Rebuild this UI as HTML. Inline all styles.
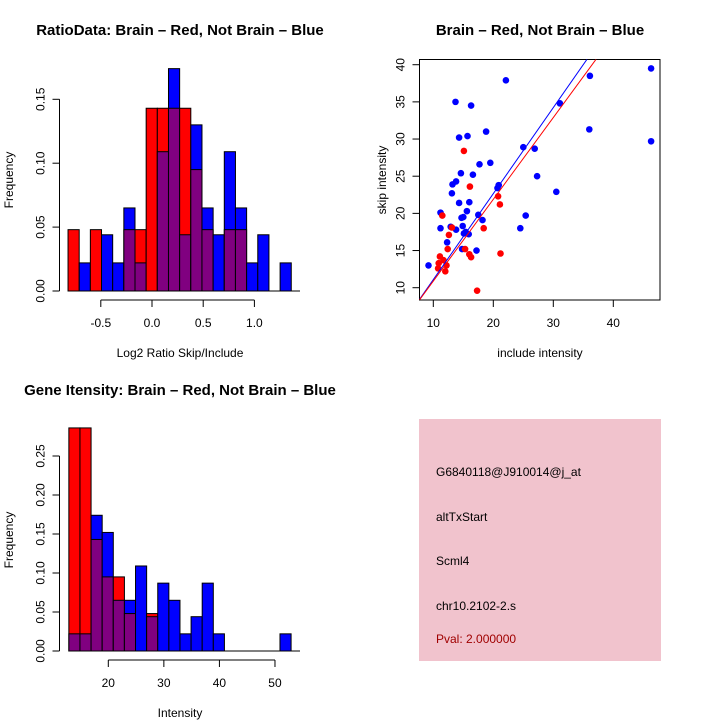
<!DOCTYPE html>
<html><head><meta charset="utf-8"><style>
body{margin:0;background:#fff}
svg{display:block;font-family:"Liberation Sans",sans-serif}
</style></head><body>
<svg id="chart" width="720" height="720" viewBox="0 0 720 720" xmlns="http://www.w3.org/2000/svg">
<rect width="720" height="720" fill="#fff"/>
<g id="p1"></g>
<g id="p2"></g>
<g id="p3"></g>
<g>
<rect x="419" y="419" width="242" height="242" fill="#f1c3cd"/>
<text x="436" y="476" font-size="12">G6840118@J910014@j_at</text>
<text x="436" y="521" font-size="12">altTxStart</text>
<text x="436" y="565" font-size="12">Scml4</text>
<text x="436" y="610" font-size="12">chr10.2102-2.s</text>
<text x="436" y="643" font-size="12" fill="#a00000">Pval: 2.000000</text>
</g>
</svg>
<script>
// Ratio histogram data
const ratioStart = -0.82, ratioBinW = 0.109;
const ratioRed  = [0.048,0,0.048,0,0,0.048,0.048,0.143,0.143,0.143,0.143,0.095,0.048,0,0.048,0.048,0,0,0,0];
const ratioBlue = [0,0.022,0,0.044,0.022,0.065,0.022,0,0.109,0.174,0.044,0.130,0.065,0.044,0.109,0.065,0.022,0.044,0,0.022];
const ratioYTicks = [0,0.05,0.10,0.15];
const ratioYLabels = ["0.00","0.05","0.10","0.15"];
const ratioXTicks = [-0.5,0,0.5,1.0];
const ratioXLabels = ["-0.5","0.0","0.5","1.0"];
// Intensity histogram data
const intStart = 12.9, intBinW = 2;
const intRed  = [0.286,0.286,0.143,0.095,0.095,0.048,0,0.048,0,0,0,0,0,0,0,0,0,0,0,0];
const intBlue = [0.022,0.022,0.174,0.152,0.065,0.065,0.109,0.044,0.087,0.065,0.022,0.044,0.087,0.022,0,0,0,0,0,0.022];
const intYTicks = [0,0.05,0.10,0.15,0.20,0.25];
const intYLabels = ["0.00","0.05","0.10","0.15","0.20","0.25"];
const intXTicks = [20,30,40,50];
const intXLabels = ["20","30","40","50"];
// Scatter data
const blueX = [9.2,11.2,11.2,12.3,12.9,13.1,13.2,13.8,13.8,13.7,14.3,14.3,14.6,14.7,15.0,14.9,14.8,15.1,15.4,15.6,15.7,16.0,15.9,16.3,16.6,17.2,17.5,17.7,18.2,18.8,19.5,20.7,20.9,22.1,24.5,25.0,25.4,26.9,27.3,30.5,31.1,36.1,36.0,46.3,46.3];
const blueY = [13.0,20.1,18.0,16.1,18.2,22.7,23.9,24.3,17.8,35.0,21.4,30.2,25.4,19.4,19.5,18.3,15.2,17.3,17.5,20.3,30.4,21.5,17.2,34.5,25.2,15.0,19.8,26.6,19.1,31.0,26.8,23.4,23.8,37.9,18.0,28.9,19.7,28.7,25.0,22.9,34.8,38.5,31.3,39.5,29.7];
const redX = [15.1,16.1,20.8,21.1,18.4,11.5,12.6,12.4,11.1,11.7,10.9,10.8,12.0,12.2,15.3,16.0,16.3,21.2,17.3,13.1];
const redY = [28.4,23.6,22.3,21.2,18.0,19.7,17.1,15.2,14.2,13.7,13.3,12.6,12.2,13.0,15.2,14.5,14.1,14.6,9.6,18.1];
const blueFit = [-0.48,1.157];
const redFit = [-0.11,1.10];
const scXTicks = [10,20,30,40];
const scYTicks = [10,15,20,25,30,35,40];

const NS="http://www.w3.org/2000/svg";
function mk(parent,tag,attrs,text){const e=document.createElementNS(NS,tag);for(const k in attrs)e.setAttribute(k,attrs[k]);if(text!==undefined)e.textContent=text;parent.appendChild(e);return e;}

function histogram(g,cfg){
  const sx=v=>cfg.x0px+(v-cfg.x0)*cfg.xs, sy=v=>cfg.base-v*cfg.ys;
  const n=cfg.red.length;
  for(let i=0;i<n;i++){
    const l=sx(cfg.start+i*cfg.bw), r=sx(cfg.start+(i+1)*cfg.bw);
    const rv=cfg.red[i], bv=cfg.blue[i];
    const mx=Math.max(rv,bv), mn=Math.min(rv,bv);
    if(mx>0){
      const e=mk(g,'rect',{x:l,y:sy(mx),width:r-l,height:sy(0)-sy(mx),fill:rv>=bv?'#ff0000':'#0000ff',stroke:'#000','stroke-width':1});
      
      
    }
    if(mn>0){
      const e=mk(g,'rect',{x:l,y:sy(mn),width:r-l,height:sy(0)-sy(mn),fill:'#800080',stroke:'#000','stroke-width':1});
      
      
    }
  }
  const bl=mk(g,'line',{x1:sx(cfg.start),x2:cfg.baseEnd,y1:cfg.base,y2:cfg.base,stroke:'#000','stroke-width':1});
  
  
  const yt=cfg.yTicks;
  const ya=mk(g,'line',{x1:cfg.yAxisX,x2:cfg.yAxisX,y1:sy(yt[0]),y2:sy(yt[yt.length-1]),stroke:'#000'});
  
  
  yt.forEach((t,i)=>{
    mk(g,'line',{x1:cfg.yAxisX-7,x2:cfg.yAxisX,y1:sy(t),y2:sy(t),stroke:'#000'});
    const tx=mk(g,'text',{x:0,y:0,'font-size':12,'text-anchor':'middle',transform:`translate(${cfg.yAxisX-15},${sy(t)}) rotate(-90)`},cfg.yLabels[i]);
    
    
  });
  const xt=cfg.xTicks;
  const xa=mk(g,'line',{x1:sx(xt[0]),x2:sx(xt[xt.length-1]),y1:cfg.xAxisY,y2:cfg.xAxisY,stroke:'#000'});
  
  
  xt.forEach((t,i)=>{
    mk(g,'line',{x1:sx(t),x2:sx(t),y1:cfg.xAxisY,y2:cfg.xAxisY+7,stroke:'#000'});
    const tx=mk(g,'text',{x:sx(t),y:cfg.xAxisY+27,'font-size':12,'text-anchor':'middle'},cfg.xLabels[i]);
    
    
  });
  const xtl=mk(g,'text',{x:180,y:cfg.xAxisY+57,'font-size':12,'text-anchor':'middle'},cfg.xTitle);
  
  
  const ytl=mk(g,'text',{x:0,y:0,'font-size':12,'text-anchor':'middle',transform:`translate(13,${cfg.yTitleY}) rotate(-90)`},'Frequency');
  
  
  const tt=mk(g,'text',{x:180,y:cfg.titleY,'font-size':15,'font-weight':'bold','text-anchor':'middle'},cfg.title);
  
  
}

histogram(document.getElementById('p1'),{
  start:ratioStart,bw:ratioBinW,red:ratioRed,blue:ratioBlue,x0:0,x0px:152,xs:102.4,base:291,ys:1278,baseEnd:300,
  yAxisX:59.5,yTicks:ratioYTicks,yLabels:ratioYLabels,xTicks:ratioXTicks,xLabels:ratioXLabels,xAxisY:300,
  xTitle:'Log2 Ratio Skip/Include',yTitleY:180,titleY:35,title:'RatioData: Brain \u2013 Red, Not Brain \u2013 Blue'});

histogram(document.getElementById('p3'),{
  start:intStart,bw:intBinW,red:intRed,blue:intBlue,x0:20,x0px:108.3,xs:5.556,base:651,ys:780,baseEnd:300,
  yAxisX:59.5,yTicks:intYTicks,yLabels:intYLabels,xTicks:intXTicks,xLabels:intXLabels,xAxisY:660,
  xTitle:'Intensity',yTitleY:540,titleY:395,title:'Gene Itensity: Brain \u2013 Red, Not Brain \u2013 Blue'});

(function(){
  const g=document.getElementById('p2');
  const L=419.5,R=660,T=59.5,B=300;
  const sx=v=>433.3+(v-10)*6, sy=v=>287.7-(v-10)*7.433;
  const defs=mk(g,'defs',{});
  const cp=mk(defs,'clipPath',{id:'clipS'});
  mk(cp,'rect',{x:L,y:T,width:R-L,height:B-T});
  const box=mk(g,'rect',{x:L,y:T,width:R-L,height:B-T,fill:'none',stroke:'#000'});
  
  
  const pts=mk(g,'g',{'clip-path':'url(#clipS)'});
  blueX.forEach((x,i)=>{
    const c=mk(pts,'circle',{cx:sx(x),cy:sy(blueY[i]),r:3.3,fill:'#0000ff'});
    
    
  });
  redX.forEach((x,i)=>{
    const c=mk(pts,'circle',{cx:sx(x),cy:sy(redY[i]),r:3.3,fill:'#ff0000'});
    
    
  });
  [[blueFit,'#0000ff','fit-line-blue'],[redFit,'#ff0000','fit-line-red']].forEach(([f,col,nm])=>{
    const x1=5,x2=50;
    const ln=mk(pts,'line',{x1:sx(x1),y1:sy(f[0]+f[1]*x1),x2:sx(x2),y2:sy(f[0]+f[1]*x2),stroke:col,'stroke-width':1});
    
    
  });
  scXTicks.forEach(t=>{
    mk(g,'line',{x1:sx(t),x2:sx(t),y1:B,y2:B+7,stroke:'#000'});
    const tx=mk(g,'text',{x:sx(t),y:327,'font-size':12,'text-anchor':'middle'},String(t));
    
    
  });
  scYTicks.forEach(t=>{
    mk(g,'line',{x1:L-7,x2:L,y1:sy(t),y2:sy(t),stroke:'#000'});
    const tx=mk(g,'text',{x:0,y:0,'font-size':12,'text-anchor':'middle',transform:`translate(${L-15},${sy(t)}) rotate(-90)`},String(t));
    
    
  });
  const xt=mk(g,'text',{x:540,y:357,'font-size':12,'text-anchor':'middle'},'include intensity');
  
  
  const yt=mk(g,'text',{x:0,y:0,'font-size':12,'text-anchor':'middle',transform:'translate(386,180) rotate(-90)'},'skip intensity');
  
  
  const tt=mk(g,'text',{x:540,y:35,'font-size':15,'font-weight':'bold','text-anchor':'middle'},'Brain \u2013 Red, Not Brain \u2013 Blue');
  
  
})();
</script>
</body></html>
